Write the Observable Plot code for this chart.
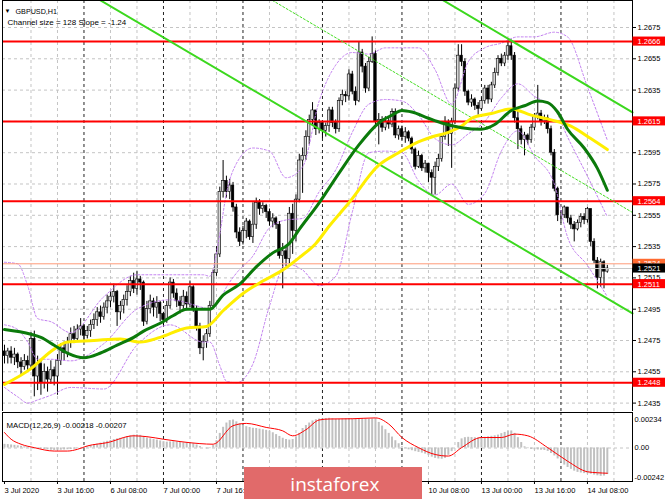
<!DOCTYPE html>
<html><head><meta charset="utf-8">
<script src="https://cdn.jsdelivr.net/npm/d3@7"></script>
<script src="https://cdn.jsdelivr.net/npm/@observablehq/plot@0.6"></script>
<style>
body{margin:0;background:#fff;}
#chart svg{display:block;}
</style></head><body><div id="chart"></div>
<script>
// ---- hourly GBPUSD candles, bar 0 = 3 Jul 2020 00:00 ----
const firstOpen = 1.2468;
const closes = [
1.2465,1.2468,1.2464,1.2466,1.2461,1.2458,1.2462,1.2459,1.2476,1.2452,
1.2460,1.2448,1.2455,1.2450,1.2456,1.2452,1.2462,1.2470,1.2467,1.2474,
1.2479,1.2476,1.2482,1.2484,1.2478,1.2481,1.2485,1.2488,1.2493,1.2490,
1.2496,1.2500,1.2503,1.2506,1.2493,1.2497,1.2501,1.2506,1.2513,1.2508,
1.2514,1.2512,1.2487,1.2495,1.2500,1.2496,1.2499,1.2492,1.2488,1.2497,
1.2512,1.2505,1.2500,1.2497,1.2503,1.2498,1.2509,1.2495,1.2484,1.2470,
1.2474,1.2479,1.2497,1.2518,1.2530,1.2570,1.2577,1.2570,1.2574,1.2560,
1.2544,1.2538,1.2545,1.2551,1.2541,1.2549,1.2563,1.2559,1.2561,1.2557,
1.2551,1.2553,1.2549,1.2529,1.2532,1.2527,1.2556,1.2545,1.2565,1.2590,
1.2593,1.2605,1.2616,1.2622,1.2610,1.2614,1.2609,1.2612,1.2622,1.2614,
1.2610,1.2628,1.2632,1.2631,1.2645,1.2634,1.2628,1.2659,1.2650,1.2636,
1.2653,1.2658,1.2615,1.2616,1.2611,1.2615,1.2613,1.2621,1.2606,1.2610,
1.2605,1.2608,1.2604,1.2597,1.2586,1.2593,1.2585,1.2588,1.2582,1.2579,
1.2586,1.2591,1.2605,1.2614,1.2607,1.2615,1.2636,1.2657,1.2653,1.2634,
1.2627,1.2629,1.2625,1.2623,1.2628,1.2636,1.2629,1.2638,1.2646,1.2655,
1.2652,1.2657,1.2663,1.2657,1.2617,1.2610,1.2603,1.2606,1.2603,1.2611,
1.2618,1.2620,1.2615,1.2617,1.2610,1.2595,1.2572,1.2555,1.2555,1.2560,
1.2553,1.2549,1.2546,1.2550,1.2554,1.2552,1.2559,1.2538,1.2526,1.2515,
1.2525,1.2519,1.2521];
const highs = [
1.2472,1.2470,1.2471,1.2470,1.2467,1.2464,1.2466,1.2465,1.2480,1.2481,
1.2465,1.2462,1.2460,1.2458,1.2462,1.2458,1.2466,1.2473,1.2474,1.2477,
1.2483,1.2484,1.2485,1.2489,1.2485,1.2484,1.2488,1.2492,1.2496,1.2497,
1.2499,1.2504,1.2506,1.2511,1.2507,1.2500,1.2504,1.2510,1.2516,1.2518,
1.2519,1.2516,1.2513,1.2500,1.2504,1.2502,1.2503,1.2500,1.2493,1.2500,
1.2515,1.2514,1.2508,1.2503,1.2507,1.2506,1.2513,1.2510,1.2497,1.2486,
1.2478,1.2482,1.2500,1.2520,1.2535,1.2573,1.2590,1.2580,1.2578,1.2576,
1.2562,1.2547,1.2548,1.2553,1.2552,1.2563,1.2566,1.2565,1.2563,1.2562,
1.2559,1.2556,1.2554,1.2551,1.2537,1.2535,1.2560,1.2562,1.2568,1.2594,
1.2598,1.2609,1.2619,1.2627,1.2622,1.2616,1.2615,1.2614,1.2624,1.2624,
1.2616,1.2630,1.2635,1.2634,1.2648,1.2647,1.2637,1.2666,1.2661,1.2652,
1.2656,1.2669,1.2660,1.2620,1.2618,1.2618,1.2617,1.2623,1.2623,1.2612,
1.2612,1.2611,1.2609,1.2605,1.2598,1.2596,1.2594,1.2590,1.2588,1.2584,
1.2589,1.2594,1.2607,1.2618,1.2616,1.2617,1.2639,1.2664,1.2664,1.2655,
1.2635,1.2632,1.2630,1.2627,1.2630,1.2638,1.2638,1.2640,1.2649,1.2657,
1.2658,1.2659,1.2667,1.2667,1.2659,1.2623,1.2612,1.2608,1.2607,1.2613,
1.2620,1.2638,1.2622,1.2619,1.2619,1.2612,1.2597,1.2573,1.2558,1.2561,
1.2560,1.2555,1.2551,1.2552,1.2556,1.2556,1.2560,1.2559,1.2540,1.2528,
1.2527,1.2526,1.2523];
const lows = [
1.2460,1.2460,1.2460,1.2459,1.2457,1.2453,1.2456,1.2455,1.2456,1.2439,
1.2443,1.2440,1.2444,1.2442,1.2447,1.2446,1.2440,1.2459,1.2462,1.2464,
1.2470,1.2473,1.2474,1.2478,1.2474,1.2476,1.2477,1.2482,1.2484,1.2486,
1.2488,1.2492,1.2496,1.2499,1.2484,1.2488,1.2492,1.2497,1.2503,1.2505,
1.2504,1.2507,1.2484,1.2485,1.2492,1.2490,1.2489,1.2487,1.2484,1.2486,
1.2495,1.2502,1.2496,1.2492,1.2495,1.2494,1.2496,1.2493,1.2481,1.2466,
1.2462,1.2470,1.2477,1.2495,1.2516,1.2528,1.2566,1.2566,1.2565,1.2557,
1.2540,1.2535,1.2536,1.2540,1.2539,1.2537,1.2546,1.2555,1.2556,1.2553,
1.2548,1.2547,1.2546,1.2527,1.2508,1.2522,1.2524,1.2530,1.2538,1.2563,
1.2569,1.2590,1.2600,1.2612,1.2606,1.2607,1.2604,1.2605,1.2608,1.2611,
1.2607,1.2608,1.2625,1.2627,1.2628,1.2632,1.2625,1.2627,1.2646,1.2633,
1.2634,1.2652,1.2612,1.2600,1.2608,1.2609,1.2610,1.2611,1.2604,1.2603,
1.2603,1.2601,1.2602,1.2594,1.2584,1.2585,1.2583,1.2582,1.2576,1.2568,
1.2568,1.2583,1.2589,1.2603,1.2599,1.2585,1.2613,1.2634,1.2650,1.2631,
1.2625,1.2624,1.2622,1.2619,1.2622,1.2626,1.2626,1.2627,1.2636,1.2644,
1.2650,1.2650,1.2654,1.2654,1.2614,1.2597,1.2600,1.2593,1.2600,1.2601,
1.2609,1.2616,1.2612,1.2613,1.2607,1.2593,1.2570,1.2551,1.2550,1.2553,
1.2550,1.2546,1.2538,1.2545,1.2547,1.2549,1.2550,1.2535,1.2524,1.2508,
1.2509,1.2508,1.2518];

// ---- moving averages (read at sample bars) ----
const yellowBars = [0,8,14,19,27,35,41,47,55,61,66,72,78,84,89,94,98,104,113,119,124,129,134,138,141,147,153,159,165,171,177,182];
const yellowVals = [1.2447,1.2457,1.2468,1.2474,1.2475,1.2476,1.2474,1.2477,1.2483,1.2484,1.2494,1.2505,1.2513,1.2520,1.2528,1.2537,1.2548,1.2563,1.2587,1.2595,1.2601,1.2605,1.2608,1.2612,1.2617,1.2620,1.2623,1.2619,1.2616,1.2612,1.2604,1.2597];
const greenBars = [0,8,11,15,19,24,29,34,39,42,47,51,55,62,66,71,76,81,86,89,95,101,107,113,117,120,123,128,132,138,144,148,153,157,161,164,167,170,175,179,182];
const greenVals = [1.2482,1.2479,1.2477,1.2472,1.2467,1.2464,1.2467,1.2472,1.2477,1.2481,1.2486,1.2491,1.2495,1.2495,1.2504,1.2511,1.2522,1.2531,1.2537,1.2546,1.2563,1.2582,1.2600,1.2614,1.2619,1.2622,1.2621,1.2617,1.2614,1.2611,1.2610,1.2613,1.2622,1.2625,1.2628,1.2627,1.2621,1.2610,1.2598,1.2585,1.2571];

// ---- Bollinger bands (read at sample bars) ----
const bbBars = [0,4,7,10,14,20,30,40,50,60,62,65,67,70,75,80,85,90,95,100,105,110,115,120,125,130,135,140,145,150,155,160,166,170,176,182];
const bbUpper = [1.2525,1.2524,1.2510,1.2489,1.2487,1.2480,1.2503,1.2517,1.2517,1.2517,1.2516,1.2543,1.2569,1.2588,1.2598,1.2596,1.2579,1.2586,1.2628,1.2651,1.2659,1.2658,1.2662,1.2662,1.2662,1.2648,1.2626,1.2653,1.2662,1.2665,1.2669,1.2669,1.2672,1.2669,1.2637,1.2603];
const bbMiddle = [1.2485,1.2482,1.2474,1.2463,1.2463,1.2462,1.2473,1.2495,1.2501,1.2496,1.2495,1.2501,1.2509,1.2518,1.2529,1.2547,1.2552,1.2553,1.2570,1.2584,1.2608,1.2626,1.2629,1.2628,1.2619,1.2604,1.2600,1.2607,1.2615,1.2630,1.2639,1.2631,1.2623,1.2605,1.2580,1.2554];
const bbLower = [1.2445,1.2439,1.2435,1.2437,1.2440,1.2445,1.2444,1.2472,1.2485,1.2474,1.2474,1.2459,1.2449,1.2448,1.2460,1.2497,1.2524,1.2520,1.2510,1.2516,1.2557,1.2595,1.2596,1.2595,1.2577,1.2568,1.2575,1.2562,1.2569,1.2596,1.2609,1.2593,1.2575,1.2541,1.2523,1.2503];

// ---- regression channel lines: [startBar, startPrice, endBar, endPrice] ----
const channelLow = [29.0, 1.26923, 189.6, 1.24923];
const channelHigh = [132.5, 1.26923, 189.6, 1.26207];
const channelMid = [80.9, 1.26923, 189.6, 1.25568];

// ---- horizontal levels ----
const levelPrices = [1.2666, 1.2615, 1.2564, 1.2511, 1.2448];
const askPrice = 1.2524;
const bidPrice = 1.2521;
const priceTicks = [1.2435,1.2455,1.2475,1.2495,1.2515,1.2535,1.2555,1.2575,1.2595,1.2615,1.2635,1.2655,1.2675];

// ---- MACD(12,26,9) main histogram per bar and signal line ----
const macdMain = [
0.00030,0.00028,0.00025,0.00022,0.00018,0.00014,0.00010,0.00008,0.00005,0.00002,
-0.00003,-0.00008,-0.00012,-0.00015,-0.00018,-0.00020,-0.00020,-0.00018,-0.00016,-0.00014,
-0.00012,-0.00009,-0.00005,0.00000,0.00005,0.00012,0.00018,0.00025,0.00032,0.00040,
0.00048,0.00055,0.00062,0.00070,0.00075,0.00080,0.00085,0.00092,0.00100,0.00105,
0.00108,0.00104,0.00090,0.00082,0.00075,0.00070,0.00065,0.00058,0.00052,0.00048,
0.00050,0.00052,0.00048,0.00045,0.00042,0.00040,0.00042,0.00035,0.00025,0.00012,
0.00000,-0.00008,-0.00005,0.00020,0.00060,0.00120,0.00170,0.00205,0.00225,0.00230,
0.00215,0.00200,0.00185,0.00175,0.00168,0.00162,0.00160,0.00155,0.00150,0.00145,
0.00138,0.00125,0.00110,0.00095,0.00080,0.00070,0.00065,0.00070,0.00090,0.00120,
0.00160,0.00185,0.00205,0.00222,0.00232,0.00238,0.00240,0.00242,0.00244,0.00240,
0.00236,0.00236,0.00238,0.00240,0.00242,0.00240,0.00238,0.00240,0.00242,0.00238,
0.00236,0.00238,0.00240,0.00210,0.00180,0.00150,0.00120,0.00090,0.00060,0.00035,
0.00010,-0.00005,-0.00015,-0.00022,-0.00030,-0.00036,-0.00042,-0.00050,-0.00062,-0.00075,
-0.00085,-0.00090,-0.00092,-0.00085,-0.00060,-0.00030,0.00000,0.00045,0.00075,0.00085,
0.00088,0.00086,0.00084,0.00082,0.00085,0.00088,0.00092,0.00096,0.00100,0.00106,
0.00118,0.00128,0.00138,0.00140,0.00120,0.00085,0.00045,0.00010,-0.00005,-0.00012,
-0.00015,-0.00016,-0.00018,-0.00020,-0.00028,-0.00045,-0.00065,-0.00090,-0.00115,-0.00140,
-0.00160,-0.00175,-0.00190,-0.00200,-0.00205,-0.00210,-0.00212,-0.00215,-0.00222,-0.00228,
-0.00232,-0.00230,-0.00218];
const signalBars = [0,2,5,9,15,19,22,25,31,39,43,48,53,59,63,69,73,79,84,87,91,95,98,105,112,116,120,125,130,134,138,144,150,154,158,164,170,176,179,182];
const signalVals = [0.00127,0.00072,0.00031,0.00003,-0.00025,-0.00025,-0.00011,0.00017,0.00044,0.00100,0.00093,0.00072,0.00053,0.00036,0.00031,0.00183,0.00202,0.00169,0.00141,0.00100,0.00150,0.00230,0.00238,0.00240,0.00247,0.00197,0.00086,0.00003,-0.00053,-0.00066,0.00003,0.00086,0.00086,0.00114,0.00100,0.00003,-0.00108,-0.00195,-0.00203,-0.00207];
const macdAxis = [0.00234, 0, -0.00242];
const macdAxisText = ["0.00234", "0.00", "-0.00242"];

// ---- time axis (labels under the watermark are not visible in the reference) ----
const xLabelBars = [0,16,32,48,64,128,144,160,176];
const xLabels = ["3 Jul 2020","3 Jul 16:00","6 Jul 08:00","7 Jul 00:00","7 Jul 16:00","10 Jul 08:00","13 Jul 00:00","13 Jul 16:00","14 Jul 08:00"];
const gridBars = [8,16,32,40,56,64,80,88,104,112,128,136,152,160,176,184];
const dayBars = [24,48,72,96,120,144,168];

// ---- build ----
const candles = closes.map((c, i) => ({i, o: i === 0 ? firstOpen : closes[i-1], h: highs[i], l: lows[i], c}));
const pts = (bs, vs) => bs.map((b, k) => ({b, v: vs[k]}));
const seg = (a) => [{b: a[0], v: a[1]}, {b: a[2], v: a[3]}];
const xDomain = [-0.6, 189.6];
const FONT = "Liberation Sans, Arial, sans-serif";
const bbStyle = {x: "b", y: "v", stroke: "#c27ff0", strokeWidth: 1, strokeDasharray: "2,2", curve: "monotone-x"};
const boxH = 0.00029;

const main = Plot.plot({
  width: 665, height: 411,
  marginLeft: 2, marginRight: 33, marginTop: 0, marginBottom: 0,
  x: {domain: xDomain, axis: null, label: null},
  y: {domain: [1.242963, 1.269225], axis: null, label: null},
  style: {fontFamily: FONT, fontSize: "8px", background: "#fff"},
  marks: [
    Plot.ruleY(priceTicks, {stroke: "#c4c4c4", strokeDasharray: "3,3"}),
    Plot.ruleX(gridBars, {stroke: "#c4c4c4", strokeDasharray: "3,3"}),
    Plot.ruleX(dayBars, {stroke: "#222", strokeDasharray: "3,3"}),
    Plot.ruleX(candles, {x: "i", y1: "l", y2: "h", stroke: "#000", strokeWidth: 1}),
    Plot.rect(candles, {x1: d => d.i - 0.38, x2: d => d.i + 0.38,
      y1: d => Math.min(d.o, d.c), y2: d => Math.max(d.o, d.c),
      fill: d => d.c >= d.o ? "#d6d6d6" : "#000", stroke: "#000", strokeWidth: 0.6}),
    Plot.line(pts(bbBars, bbUpper), bbStyle),
    Plot.line(pts(bbBars, bbMiddle), bbStyle),
    Plot.line(pts(bbBars, bbLower), bbStyle),
    Plot.ruleY([askPrice], {stroke: "#ff9a78", strokeWidth: 1}),
    Plot.ruleY([bidPrice], {stroke: "#c8c8c8", strokeWidth: 1}),
    Plot.ruleY(levelPrices, {stroke: "#ff0000", strokeWidth: 2}),
    Plot.line(seg(channelMid), {x: "b", y: "v", stroke: "#44dd22", strokeWidth: 1, strokeDasharray: "2,2"}),
    Plot.line(seg(channelLow), {x: "b", y: "v", stroke: "#3cd81e", strokeWidth: 2}),
    Plot.line(seg(channelHigh), {x: "b", y: "v", stroke: "#3cd81e", strokeWidth: 2}),
    Plot.line(pts(yellowBars, yellowVals), {x: "b", y: "v", stroke: "#ffee00", strokeWidth: 3, curve: "monotone-x"}),
    Plot.line(pts(greenBars, greenVals), {x: "b", y: "v", stroke: "#0b7a0b", strokeWidth: 3, curve: "monotone-x"}),
    Plot.frame({stroke: "#000"}),
    Plot.axisY(priceTicks, {anchor: "right", label: null, tickSize: 3, tickPadding: 2, tickFormat: d => d.toFixed(4), fontSize: 7.5, stroke: "#000", fill: "#000"}),
    Plot.rect([askPrice], {x1: 189.75, x2: 199.6, y1: d => d - boxH, y2: d => d + boxH, fill: "#ff6a30"}),
    Plot.text([askPrice], {x: 189.6, y: d => d, dx: 5, text: d => d.toFixed(4), fill: "#fff", textAnchor: "start", fontSize: 7.5}),
    Plot.rect([bidPrice], {x1: 189.75, x2: 199.6, y1: d => d - boxH, y2: d => d + boxH, fill: "#000"}),
    Plot.text([bidPrice], {x: 189.6, y: d => d, dx: 5, text: d => d.toFixed(4), fill: "#fff", textAnchor: "start", fontSize: 7.5}),
    Plot.rect(levelPrices, {x1: 189.75, x2: 199.6, y1: d => d - boxH, y2: d => d + boxH, fill: "#ff0000"}),
    Plot.text(levelPrices, {x: 189.6, y: d => d, dx: 5, text: d => d.toFixed(4), fill: "#fff", textAnchor: "start", fontSize: 7.5}),
    Plot.text(["▼"], {frameAnchor: "top-left", dx: 2, dy: 8, textAnchor: "start", fontSize: 6, fill: "#000"}),
    Plot.text(["GBPUSD,H1"], {frameAnchor: "top-left", dx: 13, dy: 8.5, textAnchor: "start", fontSize: 7.2, fill: "#000"}),
    Plot.text(["Channel size = 128 Slope = -1.24"], {frameAnchor: "top-left", dx: 5, dy: 18.5, textAnchor: "start", fontSize: 8, fill: "#000"})
  ]
});

const labelMap = new Map(xLabelBars.map((b, k) => [b, xLabels[k]]));
const macd = Plot.plot({
  width: 665, height: 88,
  marginLeft: 2, marginRight: 33, marginTop: 1, marginBottom: 18,
  x: {domain: xDomain, axis: null, label: null},
  y: {domain: [-0.002748, 0.002914], axis: null, label: null},
  style: {fontFamily: FONT, fontSize: "8px", background: "#fff"},
  marks: [
    Plot.ruleX(gridBars, {stroke: "#c4c4c4", strokeDasharray: "3,3"}),
    Plot.ruleX(dayBars, {stroke: "#222", strokeDasharray: "3,3"}),
    Plot.ruleY([0], {stroke: "#c4c4c4", strokeDasharray: "3,3"}),
    Plot.ruleX(macdMain, {x: (d, i) => i, y1: 0, y2: d => d, stroke: "#c0c0c0", strokeWidth: 2}),
    Plot.line(pts(signalBars, signalVals), {x: "b", y: "v", stroke: "#ff0000", strokeWidth: 1, curve: "monotone-x"}),
    Plot.frame({stroke: "#000"}),
    Plot.text(macdAxis, {x: 189.6, y: d => d, dx: 2, text: (d, i) => macdAxisText[i], textAnchor: "start", fontSize: 7.5, fill: "#000"}),
    Plot.text(["MACD(12,26,9) -0.00218 -0.00207"], {frameAnchor: "top-left", dx: 4, dy: 9.5, textAnchor: "start", fontSize: 7.8, fill: "#000"}),
    Plot.axisX(xLabelBars, {anchor: "bottom", label: null, tickSize: 3, tickPadding: 3, tickFormat: d => labelMap.get(d), textAnchor: "start", fontSize: 7.5, stroke: "#000", fill: "#000"}),
    Plot.rect([0], {x1: 72.46, x2: 126.2, y1: -0.0016, y2: -0.0046, fill: "#e16a6a"}),
    Plot.text(["instaforex"], {x: 86.3, y: -0.002995, text: d => d, textAnchor: "start", fontSize: 19, fill: "#fff", fontFamily: "Open Sans, Liberation Sans, sans-serif"})
  ]
});

const host = document.getElementById("chart");
host.appendChild(main);
host.appendChild(macd);
</script>
</body></html>
